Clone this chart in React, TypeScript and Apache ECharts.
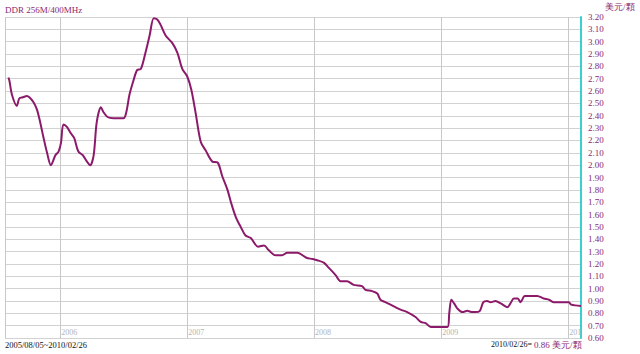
import React, { useEffect, useRef } from "react";
import * as echarts from "echarts";

const titleText = "DDR 256M/400MHz";
const unitText = "美元/顆";
const rangeText = "2005/08/05~2010/02/26";
const lastDateText = "2010/02/26=";
const lastValueText = "0.86 美元/顆";

const dates = [
  "2005-08-05", "2005-08-08", "2005-08-15", "2005-08-29", "2005-09-05", "2005-09-16",
  "2005-09-27", "2005-10-04", "2005-10-16", "2005-10-26", "2005-11-04", "2005-11-14",
  "2005-11-24", "2005-12-05", "2005-12-18", "2005-12-27", "2006-01-03", "2006-01-10",
  "2006-01-20", "2006-01-31", "2006-02-10", "2006-02-22", "2006-03-07", "2006-03-16",
  "2006-03-28", "2006-04-07", "2006-04-16", "2006-04-28", "2006-05-05", "2006-05-17",
  "2006-06-03", "2006-07-02", "2006-07-10", "2006-07-19", "2006-07-31", "2006-08-10",
  "2006-08-21", "2006-09-03", "2006-09-15", "2006-09-27", "2006-10-07", "2006-10-16",
  "2006-10-31", "2006-11-19", "2006-12-04", "2006-12-18", "2007-01-01", "2007-01-13",
  "2007-01-25", "2007-02-09", "2007-02-23", "2007-03-14", "2007-03-30", "2007-04-12",
  "2007-04-27", "2007-05-08", "2007-05-21", "2007-06-04", "2007-06-18", "2007-07-03",
  "2007-07-24", "2007-08-10", "2007-08-24", "2007-09-12", "2007-10-01", "2007-10-16",
  "2007-11-14", "2007-12-10", "2007-12-27", "2008-01-10", "2008-01-29", "2008-02-12",
  "2008-03-03", "2008-03-17", "2008-04-05", "2008-04-24", "2008-05-18", "2008-05-28",
  "2008-06-16", "2008-07-01", "2008-07-10", "2008-07-24", "2008-08-08", "2008-08-22",
  "2008-09-06", "2008-09-25", "2008-10-19", "2008-11-03", "2008-11-17", "2008-12-02",
  "2009-01-19", "2009-01-24", "2009-01-30", "2009-02-07", "2009-02-16", "2009-03-03",
  "2009-03-17", "2009-03-31", "2009-04-10", "2009-04-22", "2009-05-02", "2009-05-13",
  "2009-05-23", "2009-06-06", "2009-06-21", "2009-07-10", "2009-07-19", "2009-07-29",
  "2009-08-09", "2009-08-17", "2009-08-29", "2009-09-10", "2009-10-04", "2009-10-23",
  "2009-11-07", "2009-11-21", "2009-12-10", "2010-01-03", "2010-01-10", "2010-02-07",
];

const prices = [
  2.71, 2.68, 2.57, 2.48, 2.54, 2.55,
  2.56, 2.55, 2.51, 2.45, 2.35, 2.22,
  2.10, 2.00, 2.08, 2.11, 2.18, 2.33,
  2.31, 2.26, 2.22, 2.11, 2.08, 2.04,
  2.00, 2.08, 2.35, 2.47, 2.43, 2.39,
  2.38, 2.38, 2.43, 2.57, 2.69, 2.77,
  2.78, 2.91, 3.05, 3.19, 3.18, 3.14,
  3.05, 2.99, 2.91, 2.78, 2.72, 2.61,
  2.43, 2.19, 2.12, 2.03, 2.02, 1.91,
  1.80, 1.69, 1.58, 1.50, 1.43, 1.41,
  1.34, 1.35, 1.31, 1.27, 1.27, 1.29,
  1.29, 1.25, 1.24, 1.23, 1.21, 1.17,
  1.11, 1.06, 1.06, 1.03, 1.02, 0.99,
  0.98, 0.96, 0.91, 0.89, 0.87, 0.85,
  0.83, 0.81, 0.77, 0.73, 0.72, 0.69,
  0.69, 0.80, 0.91, 0.88, 0.84, 0.81,
  0.82, 0.81, 0.81, 0.82, 0.89, 0.90,
  0.89, 0.90, 0.88, 0.85, 0.88, 0.92,
  0.92, 0.89, 0.94, 0.94, 0.94, 0.92,
  0.91, 0.89, 0.89, 0.89, 0.87, 0.86,
];

const xMin = "2005-07-26";
const xMax = "2010-02-07";
const yMin = 0.6;
const yMax = 3.2;
const yStep = 0.1;

const PURPLE = "#8a2870";
const LINE = "#8c1a6a";
const FONT = "'Liberation Serif', 'DejaVu Serif', serif";

export default function App() {
  const ref = useRef<HTMLDivElement>(null);
  useEffect(() => {
    if (!ref.current) return;
    const chart = echarts.init(ref.current, undefined, { renderer: "svg" });
    const DAY = 24 * 3600 * 1000;
    chart.setOption({
      animation: false,
      backgroundColor: "#ffffff",
      grid: { left: 5, right: 59, top: 17, bottom: 16, containLabel: false },
      xAxis: {
        type: "time",
        min: xMin,
        max: xMax,
        minInterval: 365 * DAY,
        maxInterval: 366 * DAY,
        axisLine: { show: false },
        axisTick: { show: false },
        splitLine: { show: true, lineStyle: { color: "#c8c8c8", width: 1 } },
        axisLabel: {
          inside: true,
          margin: 2,
          align: "left",
          verticalAlign: "bottom",
          padding: [0, 0, 0, 1],
          color: "#b4b4b4",
          fontSize: 8,
          fontFamily: FONT,
          overflow: "none",
          hideOverlap: false,
          showMinLabel: false,
          showMaxLabel: false,
          formatter: (v: number) => {
            const y = new Date(v).getFullYear();
            return y === 2010 ? "201" : String(y);
          },
        },
      },
      yAxis: {
        type: "value",
        position: "right",
        min: yMin,
        max: yMax,
        interval: yStep,
        axisLine: { show: true, lineStyle: { color: "#3ccfd0", width: 2 } },
        axisTick: { show: false },
        splitLine: { show: true, lineStyle: { color: "#d2d2d2", width: 1 } },
        axisLabel: {
          margin: 7,
          color: PURPLE,
          fontSize: 9,
          fontFamily: FONT,
          formatter: (v: number) => v.toFixed(2),
        },
      },
      series: [
        {
          type: "line",
          data: dates.map((d, i) => [d, prices[i]]),
          showSymbol: false,
          symbol: "none",
          smooth: 0.3,
          lineStyle: { color: LINE, width: 2 },
        },
      ],
      graphic: [
        {
          type: "text",
          left: 5,
          top: 5,
          style: { text: titleText, fill: PURPLE, fontSize: 9, fontFamily: FONT },
        },
        {
          type: "text",
          left: 605,
          top: 2,
          style: { text: unitText, fill: PURPLE, fontSize: 9, fontFamily: FONT },
        },
        {
          type: "text",
          left: 5,
          top: 340,
          style: { text: rangeText, fill: "#111111", fontSize: 8.5, fontFamily: FONT },
        },
        {
          type: "text",
          left: 491,
          top: 340,
          style: { text: lastDateText, fill: "#111111", fontSize: 8, fontFamily: FONT },
        },
        {
          type: "text",
          left: 534,
          top: 340,
          style: { text: lastValueText, fill: PURPLE, fontSize: 9, fontFamily: FONT },
        },
      ],
    });
    return () => chart.dispose();
  }, []);
  return (
    <div
      ref={ref}
      style={{ position: "absolute", left: 0, top: 0, width: 640, height: 354 }}
    />
  );
}
